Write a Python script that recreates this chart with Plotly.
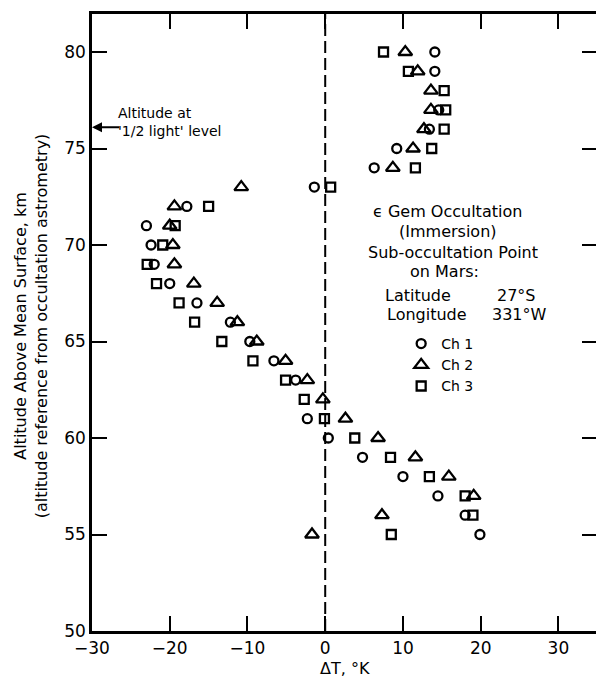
import plotly.graph_objects as go

# ---- data ----
altitude_km = [80, 79, 78, 77, 76, 75, 74, 73, 72, 71, 70, 69, 68, 67,
               66, 65, 64, 63, 62, 61, 60, 59, 58, 57, 56, 55]
ch1_dT = [14.1, 14.1, None, 14.6, 13.4, 9.2, 6.3, -1.4, -17.8, -23.0, -22.4, -22.0, -20.0, -16.5,
          -12.2, -9.7, -6.6, -3.8, None, -2.3, 0.4, 4.8, 10.0, 14.5, 18.0, 19.9]
ch2_dT = [10.3, 11.9, 13.6, 13.6, 12.7, 11.3, 8.7, -10.8, -19.4, -20.0, -19.6, -19.4, -16.9, -13.9,
          -11.3, -8.8, -5.1, -2.3, -0.3, 2.6, 6.8, 11.6, 15.9, 19.1, 7.3, -1.7]
ch3_dT = [7.5, 10.7, 15.3, 15.5, 15.3, 13.7, 11.6, 0.7, -15.0, -19.3, -20.9, -22.9, -21.7, -18.8,
          -16.8, -13.3, -9.3, -5.1, -2.7, -0.1, 3.8, 8.4, 13.4, 18.0, 19.0, 8.5]
channel_names = ["Ch 1", "Ch 2", "Ch 3"]
half_light_altitude = 76.1
x_ticks = [-30, -20, -10, 0, 10, 20, 30]
y_ticks = [50, 55, 60, 65, 70, 75, 80]

FONT = "DejaVu Sans"
W, H = 600, 681          # slightly wider than the window: right frame line falls off-page
L, R, T, B = 92, 0, 14, 50

def px(xp):
    return (xp - L) / (W - L - R)

def py(yp):
    return (H - B - yp) / (H - T - B)

fig = go.Figure()
symbols = ["circle-open", "triangle-up-open", "square-open"]
sizes = [9, 12, 9]
for name, vals, sym, sz in zip(channel_names, [ch1_dT, ch2_dT, ch3_dT], symbols, sizes):
    fig.add_trace(go.Scatter(
        x=vals, y=altitude_km, mode="markers", name=name,
        marker=dict(symbol=sym, size=sz, color="black",
                    line=dict(color="black", width=2.3)),
    ))

fig.add_vline(x=0, line=dict(color="black", width=2, dash="12px,5px"))

ann = []
def txt(s, xp, yp, anchor="center", size=16):
    ann.append(dict(text=s, x=px(xp), y=py(yp), xref="paper", yref="paper",
                    xanchor=anchor, yanchor="middle", showarrow=False,
                    font=dict(family=FONT, size=size, color="black")))

txt("ϵ Gem Occultation", 450, 212)
txt("(Immersion)", 450, 231)
txt("Sub-occultation Point", 455, 252)
txt("on Mars:", 447, 271)
txt("Latitude", 385, 295, "left")
txt("27°S", 497, 295, "left")
txt("Longitude", 387, 314, "left")
txt("331°W", 492, 314, "left")
txt("Altitude at", 116, 113, "left", 14)
txt("'1/2 light' level", 116, 131, "left", 14)

ann.append(dict(text="", x=-30, y=half_light_altitude, xref="x", yref="y",
                ax=-26.3, ay=half_light_altitude, axref="x", ayref="y",
                showarrow=True, arrowhead=2, arrowsize=1, arrowwidth=2,
                arrowcolor="black"))

ann.append(dict(text="Altitude Above Mean Surface, km<br>(altitude reference from occultation astrometry)",
                x=px(31), y=py(326), xref="paper", yref="paper", textangle=-90,
                xanchor="center", yanchor="middle", showarrow=False,
                font=dict(family=FONT, size=16, color="black")))
ann.append(dict(text="ΔT, °K", x=px(346), y=py(668), xref="paper", yref="paper",
                xanchor="center", yanchor="middle", showarrow=False,
                font=dict(family=FONT, size=16, color="black")))

axis_common = dict(showline=True, linecolor="black", linewidth=2.5, mirror="ticks",
                   ticks="inside", ticklen=15, tickwidth=2, tickcolor="black",
                   showgrid=False, zeroline=False,
                   tickfont=dict(family=FONT, size=17, color="black"))

fig.update_layout(
    width=W, height=H,
    margin=dict(l=L, r=R, t=T, b=B),
    paper_bgcolor="white", plot_bgcolor="white",
    xaxis=dict(range=[-30, -30 + (W - L - R) / 7.82], tickvals=x_ticks, **axis_common),
    yaxis=dict(range=[50, 81.97], tickvals=y_ticks, **axis_common),
    annotations=ann,
    showlegend=True,
    legend=dict(x=px(403), y=py(328), xanchor="left", yanchor="top",
                font=dict(family=FONT, size=14, color="black"),
                bgcolor="rgba(0,0,0,0)", itemwidth=30, tracegroupgap=0),
)

fig.write_html("out.html", config={"displayModeBar": False},
               post_script="document.body.style.margin='0';document.body.style.overflow='hidden';")
